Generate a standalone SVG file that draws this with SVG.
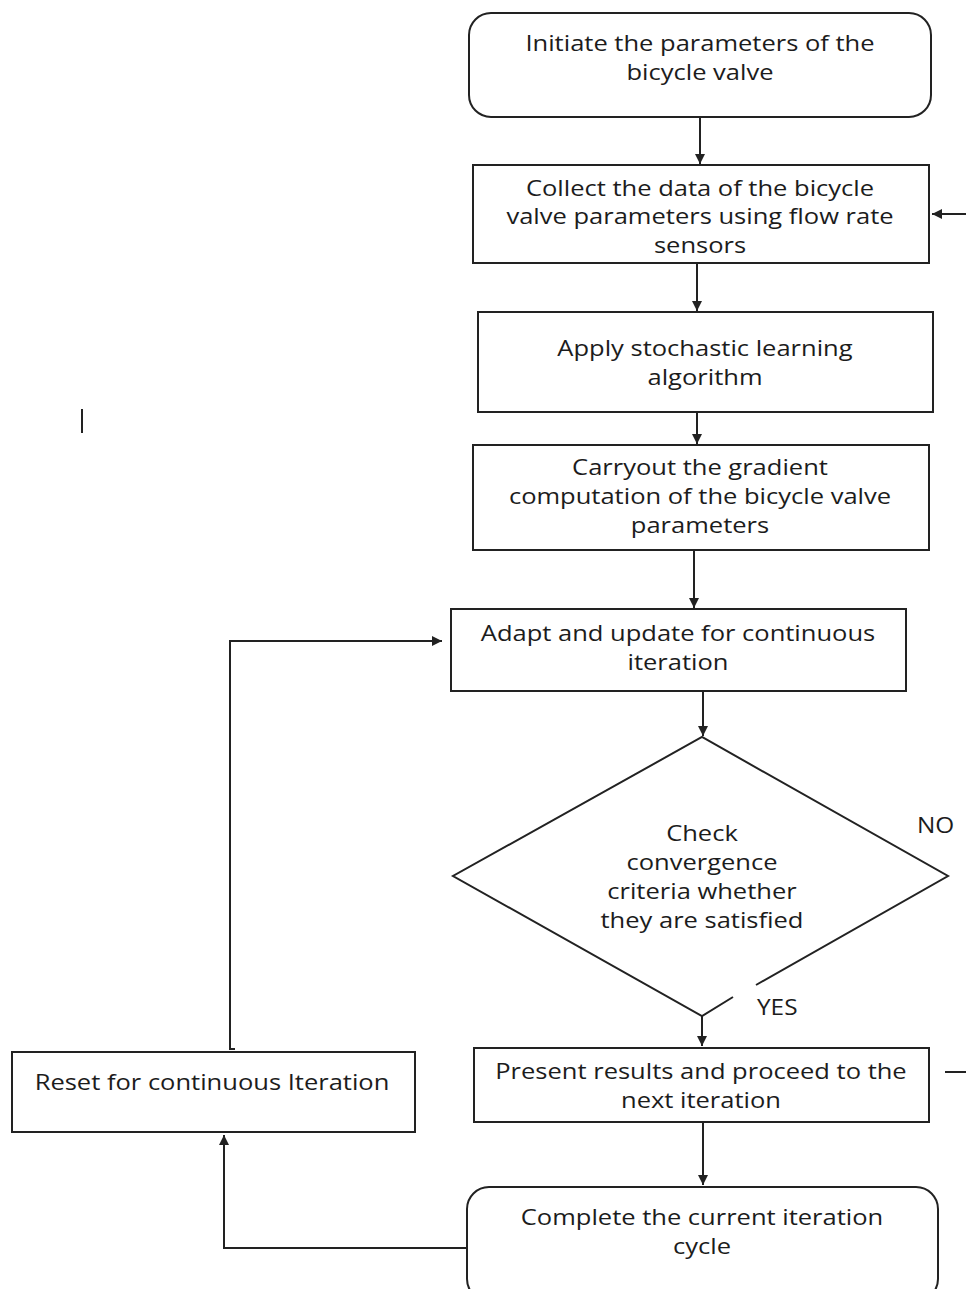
<svg xmlns="http://www.w3.org/2000/svg" width="966" height="1289" viewBox="0 0 966 1289">
<defs>
<style>
.box{fill:#fff;stroke:#222;stroke-width:2}
.ln{fill:none;stroke:#222;stroke-width:2}
.t{font-family:"Open Sans","Noto Sans","Liberation Sans",sans-serif;font-size:22px;font-weight:500;fill:#1c1c1c;text-anchor:middle;transform-box:fill-box;transform-origin:center;transform:scaleX(1.16)}
.lbl{font-family:"Open Sans","Noto Sans","Liberation Sans",sans-serif;font-size:21px;font-weight:500;fill:#1c1c1c;transform-box:fill-box;transform-origin:left center;transform:scaleX(1.16)}
</style>
<marker id="ah" viewBox="0 0 10 10" refX="10" refY="5" markerWidth="10" markerHeight="10" markerUnits="userSpaceOnUse" orient="auto">
<path d="M0,0 L10,5 L0,10 z" fill="#222"/>
</marker>
</defs>
<rect width="966" height="1289" fill="#fff"/>
<g id="connectors">
<line class="ln" x1="700" y1="117" x2="700" y2="164" marker-end="url(#ah)"/>
<line class="ln" x1="966" y1="214" x2="932" y2="214" marker-end="url(#ah)"/>
<line class="ln" x1="697" y1="263" x2="697" y2="311" marker-end="url(#ah)"/>
<line class="ln" x1="697" y1="412" x2="697" y2="444" marker-end="url(#ah)"/>
<line class="ln" x1="694" y1="550" x2="694" y2="608" marker-end="url(#ah)"/>
<line class="ln" x1="703" y1="691" x2="703" y2="736" marker-end="url(#ah)"/>
<line class="ln" x1="702" y1="1016" x2="702" y2="1046" marker-end="url(#ah)"/>
<line class="ln" x1="703" y1="1122" x2="703" y2="1185" marker-end="url(#ah)"/>
<polyline class="ln" points="235,1049 230,1049 230,641 442,641" marker-end="url(#ah)"/>
<polyline class="ln" points="467,1248 224,1248 224,1135" marker-end="url(#ah)"/>
<line class="ln" x1="945" y1="1072" x2="966" y2="1072"/>
<line class="ln" x1="82" y1="409" x2="82" y2="433"/>
</g>
<g id="n1">
<rect class="box" x="469" y="13" width="462" height="104" rx="22"/>
<text class="t" x="700" y="51">Initiate the parameters of the</text>
<text class="t" x="700" y="80">bicycle valve</text>
</g>
<g id="n2">
<rect class="box" x="473" y="165" width="456" height="98"/>
<text class="t" x="700" y="196">Collect the data of the bicycle</text>
<text class="t" x="700" y="224">valve parameters using flow rate</text>
<text class="t" x="700" y="253">sensors</text>
</g>
<g id="n3">
<rect class="box" x="478" y="312" width="455" height="100"/>
<text class="t" x="705" y="356">Apply stochastic learning</text>
<text class="t" x="705" y="385">algorithm</text>
</g>
<g id="n4">
<rect class="box" x="473" y="445" width="456" height="105"/>
<text class="t" x="700" y="475">Carryout the gradient</text>
<text class="t" x="700" y="504">computation of the bicycle valve</text>
<text class="t" x="700" y="533">parameters</text>
</g>
<g id="n5">
<rect class="box" x="451" y="609" width="455" height="82"/>
<text class="t" x="678" y="641">Adapt and update for continuous</text>
<text class="t" x="678" y="670">iteration</text>
</g>
<g id="n6">
<polyline class="ln" points="756,985 948,876 702,737 453,876 702,1016 733,997"/>
<text class="t" x="702" y="841">Check</text>
<text class="t" x="702" y="870">convergence</text>
<text class="t" x="702" y="899">criteria whether</text>
<text class="t" x="702" y="928">they are satisfied</text>
<text class="lbl" x="917" y="833">NO</text>
<text class="lbl" x="757" y="1015">YES</text>
</g>
<g id="n7">
<rect class="box" x="474" y="1048" width="455" height="74"/>
<text class="t" x="701" y="1079">Present results and proceed to the</text>
<text class="t" x="701" y="1108">next iteration</text>
</g>
<g id="n8">
<rect class="box" x="12" y="1052" width="403" height="80"/>
<text class="t" x="212" y="1090">Reset for continuous Iteration</text>
</g>
<g id="n9">
<rect class="box" x="467" y="1187" width="471" height="114" rx="22"/>
<text class="t" x="702" y="1225">Complete the current iteration</text>
<text class="t" x="702" y="1254">cycle</text>
</g>
</svg>
